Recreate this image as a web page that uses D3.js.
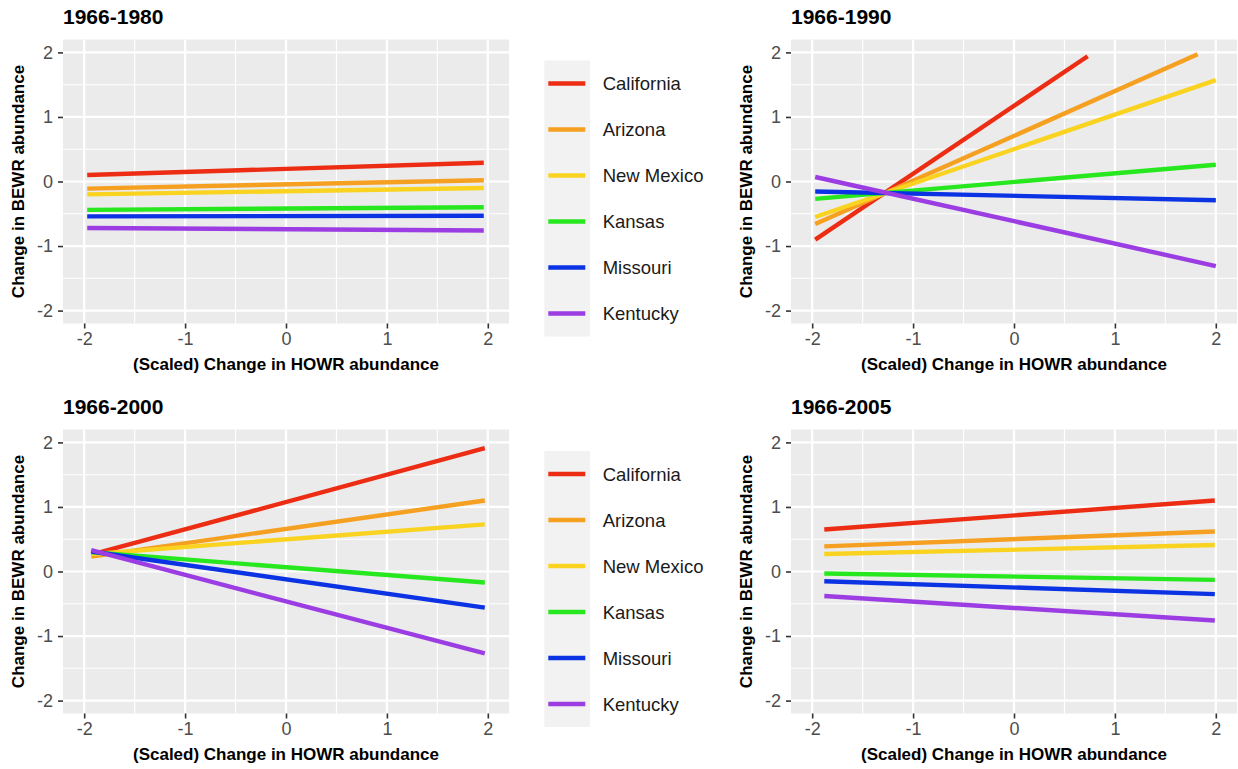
<!DOCTYPE html>
<html>
<head>
<meta charset="utf-8">
<script src="https://cdn.jsdelivr.net/npm/d3@7"></script>
<style>
  body { margin: 0; background: #fff; }
  text { font-family: "Liberation Sans", Arial, sans-serif; }
</style>
</head>
<body>
<script>
let width = 1238,
  height = 769;

// data
const states = ["California", "Arizona", "New Mexico", "Kansas", "Missouri", "Kentucky"];
const stateColors = ["#EC2D14", "#F5A021", "#F9D320", "#27E81E", "#0B33E3", "#9B3DE2"];
const periods = ["1966-1980", "1966-1990", "1966-2000", "1966-2005"];
const ticks = [-2, -1, 0, 1, 2];
const tickLabels = ["-2", "-1", "0", "1", "2"];

// fitted lines, one row per state: [xStart, yStart, xEnd, yEnd]
const fit1980 = [
  [-1.97, 0.10, 1.96, 0.29],
  [-1.97, -0.11, 1.96, 0.02],
  [-1.97, -0.20, 1.96, -0.10],
  [-1.97, -0.44, 1.96, -0.40],
  [-1.97, -0.54, 1.96, -0.53],
  [-1.97, -0.72, 1.96, -0.76]
];
const fit1990 = [
  [-1.97, -0.90, 0.73, 1.94],
  [-1.97, -0.66, 1.82, 1.97],
  [-1.97, -0.55, 2.00, 1.57],
  [-1.97, -0.27, 2.00, 0.26],
  [-1.97, -0.155, 2.00, -0.29],
  [-1.97, 0.07, 2.00, -1.31]
];
const fit2000 = [
  [-1.93, 0.26, 1.97, 1.91],
  [-1.93, 0.23, 1.97, 1.10],
  [-1.93, 0.27, 1.97, 0.73],
  [-1.93, 0.30, 1.97, -0.17],
  [-1.93, 0.31, 1.97, -0.56],
  [-1.93, 0.33, 1.97, -1.27]
];
const fit2005 = [
  [-1.88, 0.65, 1.99, 1.10],
  [-1.88, 0.39, 1.99, 0.62],
  [-1.88, 0.27, 1.99, 0.41],
  [-1.88, -0.03, 1.99, -0.13],
  [-1.88, -0.15, 1.99, -0.35],
  [-1.88, -0.38, 1.99, -0.76]
];
const fits = [fit1980, fit1990, fit2000, fit2005];

let panelW = 446, panelH = 284;
let panelPos = [[63, 39.5], [791, 39.5], [63, 429.5], [791, 429.5]];
let legendPos = [[544.3, 60.5], [544.3, 451]];

let svg = d3.select("body").append("svg")
  .attr("width", width)
  .attr("height", height);

function drawPanel(i) {
  let [px, py] = panelPos[i];
  let x = d3.scaleLinear().domain([-2.21, 2.21]).range([0, panelW]);
  let y = d3.scaleLinear().domain([-2.2, 2.2]).range([panelH, 0]);

  let g = svg.append("g").attr("transform", `translate(${px},${py})`);

  g.append("rect")
    .attr("width", panelW).attr("height", panelH)
    .attr("fill", "#EBEBEB");

  let minor = [-1.5, -0.5, 0.5, 1.5];
  // minor grid
  g.selectAll(".vminor").data(minor).enter().append("line")
    .attr("x1", d => x(d)).attr("x2", d => x(d))
    .attr("y1", 0).attr("y2", panelH)
    .attr("stroke", "#fff").attr("stroke-width", 1.1);
  g.selectAll(".hminor").data(minor).enter().append("line")
    .attr("y1", d => y(d)).attr("y2", d => y(d))
    .attr("x1", 0).attr("x2", panelW)
    .attr("stroke", "#fff").attr("stroke-width", 1.1);
  // major grid
  g.selectAll(".vmajor").data(ticks).enter().append("line")
    .attr("x1", d => x(d)).attr("x2", d => x(d))
    .attr("y1", 0).attr("y2", panelH)
    .attr("stroke", "#fff").attr("stroke-width", 2.2);
  g.selectAll(".hmajor").data(ticks).enter().append("line")
    .attr("y1", d => y(d)).attr("y2", d => y(d))
    .attr("x1", 0).attr("x2", panelW)
    .attr("stroke", "#fff").attr("stroke-width", 2.2);

  let line = d3.line().x(d => x(d[0])).y(d => y(d[1]));
  g.selectAll(".fit").data(fits[i]).enter().append("path")
    .attr("d", d => line([[d[0], d[1]], [d[2], d[3]]]))
    .attr("fill", "none")
    .attr("stroke", (d, j) => stateColors[j])
    .attr("stroke-width", 4.4);

  let xAxis = g.append("g")
    .attr("transform", `translate(0,${panelH})`)
    .call(d3.axisBottom(x).tickValues(ticks).tickFormat((d, k) => tickLabels[k])
      .tickSize(5).tickPadding(4));
  let yAxis = g.append("g")
    .call(d3.axisLeft(y).tickValues(ticks).tickFormat((d, k) => tickLabels[k])
      .tickSize(5).tickPadding(5));
  [xAxis, yAxis].forEach(a => {
    a.select(".domain").remove();
    a.selectAll("line").attr("stroke", "#333").attr("stroke-width", 1.6);
    a.selectAll("text").attr("fill", "#4D4D4D")
      .style("font-size", "18px")
      .style("font-family", '"Liberation Sans", Arial, sans-serif');
  });

  g.append("text")
    .attr("x", 0).attr("y", -16)
    .attr("font-size", 21).attr("font-weight", "bold").attr("fill", "#000")
    .text(periods[i]);

  g.append("text")
    .attr("x", panelW / 2).attr("y", panelH + 46.5)
    .attr("text-anchor", "middle")
    .attr("font-size", 17).attr("font-weight", "bold").attr("fill", "#000")
    .text("(Scaled) Change in HOWR abundance");

  g.append("text")
    .attr("transform", `translate(-39,${panelH / 2}) rotate(-90)`)
    .attr("text-anchor", "middle")
    .attr("font-size", 17).attr("font-weight", "bold").attr("fill", "#000")
    .text("Change in BEWR abundance");
}

function drawLegend(pos) {
  let [lx, ly] = pos;
  let keyH = 46;
  let g = svg.append("g").attr("transform", `translate(${lx},${ly})`);
  g.append("rect")
    .attr("width", 45.7).attr("height", keyH * states.length)
    .attr("fill", "#F2F2F2");
  let item = g.selectAll(".key").data(states).enter().append("g")
    .attr("transform", (d, j) => `translate(0,${keyH * j + keyH / 2})`);
  item.append("line")
    .attr("x1", 4).attr("x2", 41)
    .attr("stroke", (d, j) => stateColors[j])
    .attr("stroke-width", 4.4);
  item.append("text")
    .attr("x", 58.4).attr("dy", "0.36em")
    .attr("font-size", 18.5).attr("fill", "#1A1A1A")
    .text(d => d);
}

for (let i = 0; i < 4; i++) drawPanel(i);
legendPos.forEach(drawLegend);
</script>
</body>
</html>
